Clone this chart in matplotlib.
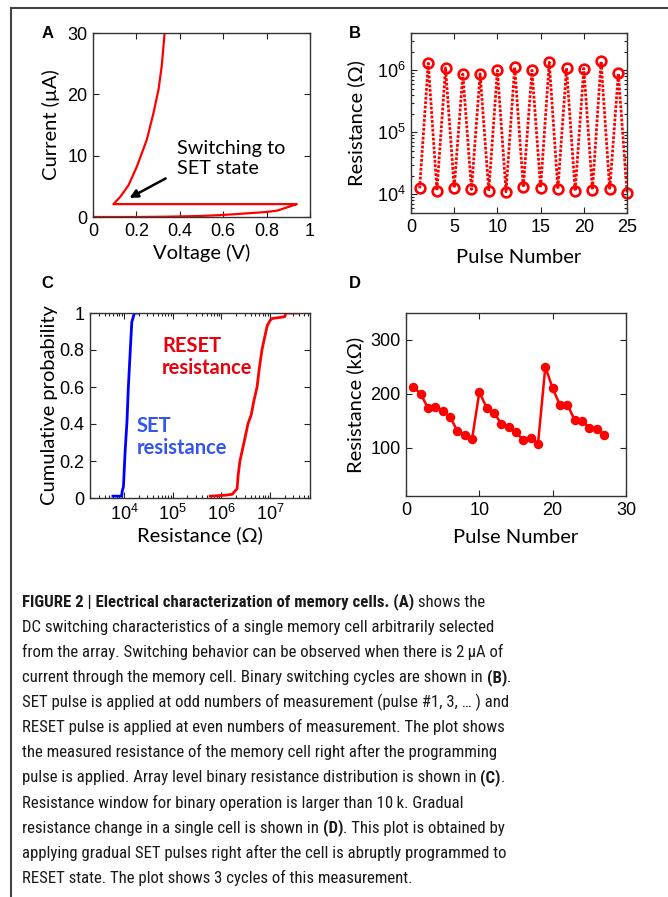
import matplotlib
matplotlib.use("Agg")
import matplotlib.pyplot as plt
from matplotlib.lines import Line2D
from matplotlib.ticker import FixedLocator, LogLocator, NullFormatter
from matplotlib import font_manager
import numpy as np

# ---------------- data ----------------
# Panel A: I-V sweep (V, uA), in sweep order
iv_voltage = [0.0, 0.20, 0.34, 0.49, 0.58, 0.647, 0.72, 0.80, 0.85, 0.877, 0.91, 0.939,
              0.88, 0.60, 0.30, 0.094, 0.126, 0.164, 0.202, 0.248, 0.279, 0.302, 0.317, 0.330]
iv_current = [0.0, 0.0, 0.05, 0.16, 0.30, 0.44, 0.62, 0.82, 1.05, 1.37, 1.75, 2.1,
              2.1, 2.1, 2.1, 2.1, 3.3, 5.2, 8.2, 12.6, 17.0, 20.8, 24.7, 30.0]

# Panel B: binary switching
pulse_b = list(range(1, 26))
res_b = [1.25e4, 1.3e6, 1.15e4, 1.1e6, 1.27e4, 8.7e5, 1.2e4, 8.8e5, 1.13e4, 1.0e6,
         1.1e4, 1.13e6, 1.3e4, 1.0e6, 1.27e4, 1.35e6, 1.22e4, 1.09e6, 1.13e4, 1.07e6,
         1.18e4, 1.4e6, 1.2e4, 8.9e5, 1.07e4]

# Panel C: cumulative distributions
set_res = [5.9e3, 8.9e3, 9.2e3, 9.7e3, 1.05e4, 1.15e4, 1.22e4, 1.33e4, 1.44e4, 1.63e4, 1.96e4]
set_prob = [0.01, 0.01, 0.04, 0.06, 0.25, 0.42, 0.59, 0.78, 0.95, 1.0, 1.0]
reset_res = [5.9e5, 1.2e6, 1.66e6, 2.1e6, 2.2e6, 2.4e6, 2.8e6, 3.2e6, 3.5e6, 4.1e6, 4.6e6,
             5.4e6, 6.0e6, 6.8e6, 7.6e6, 8.7e6, 1.0e7, 1.1e7, 1.5e7, 2.0e7, 2.1e7, 3.7e7]
reset_prob = [0.01, 0.015, 0.02, 0.05, 0.12, 0.2, 0.28, 0.35, 0.4, 0.45, 0.52,
              0.6, 0.7, 0.8, 0.86, 0.93, 0.96, 0.97, 0.975, 0.98, 1.0, 1.0]

# Panel D: gradual change
pulse_d = list(range(1, 28))
res_d = [213, 200, 173, 175, 168, 157, 131, 123, 115, 203, 174, 165, 144, 138, 128,
         114, 118, 107, 250, 210, 179, 180, 151, 149, 137, 135, 124]

caption_lines = [
    [("FIGURE 2 | Electrical characterization of memory cells. (A)", True), (" shows the", False)],
    [("DC switching characteristics of a single memory cell arbitrarily selected", False)],
    [("from the array. Switching behavior can be observed when there is 2\u2009\u00b5A of", False)],
    [("current through the memory cell. Binary switching cycles are shown in ", False), ("(B)", True), (".", False)],
    [("SET pulse is applied at odd numbers of measurement (pulse #1, 3, \u2026 ) and", False)],
    [("RESET pulse is applied at even numbers of measurement. The plot shows", False)],
    [("the measured resistance of the memory cell right after the programming", False)],
    [("pulse is applied. Array level binary resistance distribution is shown in ", False), ("(C)", True), (".", False)],
    [("Resistance window for binary operation is larger than 10\u2009k. Gradual", False)],
    [("resistance change in a single cell is shown in ", False), ("(D)", True), (". This plot is obtained by", False)],
    [("applying gradual SET pulses right after the cell is abruptly programmed to", False)],
    [("RESET state. The plot shows 3 cycles of this measurement.", False)],
]

# ---------------- style ----------------
W, H = 668, 897
plt.rcParams['font.family'] = ['Liberation Sans', 'DejaVu Sans']
plt.rcParams['mathtext.fontset'] = 'custom'
plt.rcParams['mathtext.rm'] = 'Liberation Sans'
plt.rcParams['mathtext.it'] = 'Liberation Sans'
LABEL_FONT = ['Lato', 'DejaVu Sans']
TICK_SIZE = 13
LABEL_SIZE = 14.5

fig = plt.figure(figsize=(W / 100, H / 100), dpi=100)


def px_axes(l, t, r, b):
    return fig.add_axes([l / W, 1 - b / H, (r - l) / W, (b - t) / H])


def style(ax):
    ax.tick_params(which='both', direction='in', top=True, right=True,
                   labelsize=TICK_SIZE, pad=4, width=0.8, color='#222222')
    ax.tick_params(which='major', length=4)
    ax.tick_params(which='minor', length=2)
    for s in ax.spines.values():
        s.set_linewidth(1.0)
        s.set_color('#333333')


# Frame lines
fig.add_artist(Line2D([11 / W, 1], [1 - 8 / H, 1 - 8 / H], color='#444444', lw=1.5))
fig.add_artist(Line2D([11 / W, 11 / W], [1 - 8 / H, 0], color='#444444', lw=1.5))

red = '#ff0000'

# ---- Panel A ----
axA = px_axes(93, 33, 310, 217)
axA.plot(iv_voltage, iv_current, color=red, lw=1.6)
axA.set_xlim(0, 1)
axA.set_ylim(0, 30)
axA.set_xticks([0, 0.2, 0.4, 0.6, 0.8, 1])
axA.set_xticklabels(['0', '0.2', '0.4', '0.6', '0.8', '1'])
axA.set_yticks([0, 10, 20, 30])
style(axA)
axA.set_xlabel('Voltage (V)', family=LABEL_FONT, fontsize=LABEL_SIZE, labelpad=3.5)
axA.set_ylabel('Current (\u00b5A)', family=LABEL_FONT, fontsize=LABEL_SIZE, labelpad=5.5)
axA.annotate('', xy=(0.157, 2.9), xytext=(0.346, 6.5),
             arrowprops=dict(arrowstyle='-|>', color='black', lw=1.8, mutation_scale=12))
axA.text(0.385, 9.6, 'Switching to\nSET state', family=LABEL_FONT, fontsize=14.3,
         va='center', ha='left', linespacing=1.2)

# ---- Panel B ----
axB = px_axes(411, 33, 627, 213)
axB.plot(pulse_b, res_b, color=red, lw=2.0, ls=(0, (1.0, 0.6)), marker='o', ms=7,
         mfc='none', mew=1.9, clip_on=False)
axB.set_yscale('log')
axB.set_xlim(0, 25)
axB.set_ylim(5e3, 4e6)
axB.set_xticks([0, 5, 10, 15, 20, 25])
axB.yaxis.set_major_locator(FixedLocator([1e4, 1e5, 1e6]))
axB.yaxis.set_minor_locator(LogLocator(base=10, subs=np.arange(2, 10)))
axB.yaxis.set_minor_formatter(NullFormatter())
style(axB)
axB.set_xlabel('Pulse Number', family=LABEL_FONT, fontsize=LABEL_SIZE, labelpad=9.5)
axB.set_ylabel('Resistance (\u03a9)', family=LABEL_FONT, fontsize=LABEL_SIZE, labelpad=8)

# ---- Panel C ----
axC = px_axes(90, 313, 310, 498)
axC.plot(set_res, set_prob, color='#0000ff', lw=2.0)
axC.plot(reset_res, reset_prob, color=red, lw=2.0)
axC.set_xscale('log')
axC.set_xlim(10 ** 3.3, 10 ** 7.82)
axC.set_ylim(0, 1)
axC.xaxis.set_major_locator(FixedLocator([1e4, 1e5, 1e6, 1e7]))
axC.xaxis.set_minor_locator(LogLocator(base=10, subs=np.arange(2, 10)))
axC.xaxis.set_minor_formatter(NullFormatter())
axC.set_yticks([0, 0.2, 0.4, 0.6, 0.8, 1])
axC.set_yticklabels(['0', '0.2', '0.4', '0.6', '0.8', '1'])
style(axC)
axC.set_xlabel('Resistance (\u03a9)', family=LABEL_FONT, fontsize=LABEL_SIZE, labelpad=2)
axC.set_ylabel('Cumulative probability', family=LABEL_FONT, fontsize=LABEL_SIZE, labelpad=1)
axC.text(162 / W, 1 - 357 / H, 'RESET\nresistance', transform=fig.transFigure,
         family=LABEL_FONT, fontsize=14.5, fontweight='bold', color='#e8000c',
         va='center', ha='left', linespacing=1.15)
axC.text(137 / W, 1 - 437 / H, 'SET\nresistance', transform=fig.transFigure,
         family=LABEL_FONT, fontsize=14.5, fontweight='bold', color='#3355ee',
         va='center', ha='left', linespacing=1.15)

# ---- Panel D ----
axD = px_axes(406, 313, 626, 496)
axD.plot(pulse_d, res_d, color=red, lw=1.8, marker='o', ms=5.8)
axD.set_xlim(0, 30)
axD.set_ylim(10, 350)
axD.set_xticks([0, 10, 20, 30])
axD.set_yticks([100, 200, 300])
style(axD)
axD.set_xlabel('Pulse Number', family=LABEL_FONT, fontsize=LABEL_SIZE, labelpad=7.5)
axD.set_ylabel('Resistance (k\u03a9)', family=LABEL_FONT, fontsize=LABEL_SIZE, labelpad=4.5)

# Panel letters
for letter, x, y in [('A', 42, 34), ('B', 349, 33), ('C', 41, 283), ('D', 349, 283)]:
    fig.text(x / W, 1 - y / H, letter, fontsize=12, fontweight='bold', va='center', ha='left')

# ---------------- caption ----------------
available = {f.name for f in font_manager.fontManager.ttflist}
cap_family = 'Liberation Sans'
for cand in ['Liberation Sans Narrow', 'Arial Narrow', 'Roboto Condensed', 'Open Sans Condensed',
             'Noto Sans Condensed', 'DejaVu Sans Condensed', 'Nimbus Sans Narrow']:
    if cand in available:
        cap_family = cand
        break
CAP_FONT = [cap_family, 'DejaVu Sans']

fig.canvas.draw()
renderer = fig.canvas.get_renderer()
# choose the size so the longest line spans the same width as in the original
probe = fig.text(0, 0, caption_lines[4][0][0], family=CAP_FONT, fontsize=12)
probe_w = probe.get_window_extent(renderer=renderer).width
probe.remove()
CAP_SIZE = min(13.5, 12 * 488.0 / probe_w)

y0 = 606.7
dy = 25.1
for i, runs in enumerate(caption_lines):
    x = 22.0
    y = y0 + i * dy
    for txt, bold in runs:
        t = fig.text(x / W, 1 - y / H, txt, family=CAP_FONT, fontsize=CAP_SIZE,
                     fontweight='bold' if bold else 'normal', va='baseline', ha='left',
                     color='#1a1a1a')
        bb = t.get_window_extent(renderer=renderer)
        x += bb.width

fig.savefig('out.png', dpi=100)
